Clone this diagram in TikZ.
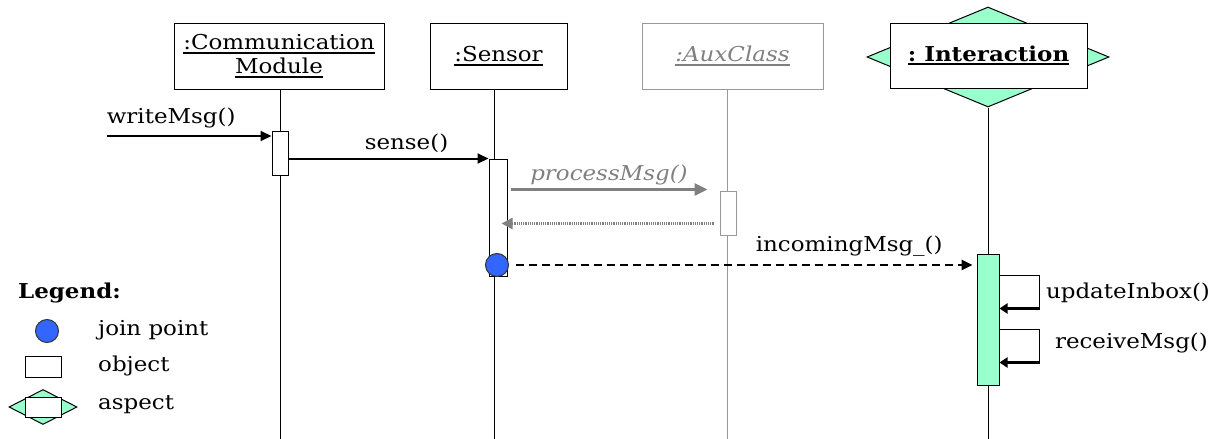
\documentclass[tikz,border=0pt]{standalone}
\usepackage{fontspec}
\setmainfont{DejaVu Serif}[FakeStretch=1.12]
\usepackage{tikz}
\usetikzlibrary{arrows.meta, positioning, shapes.geometric}

\definecolor{aspectgreen}{HTML}{99FFCC}
\definecolor{jpblue}{HTML}{3366FF}
\definecolor{auxgray}{HTML}{808080}
\definecolor{auxline}{HTML}{999999}

% text size used all over the diagram
\newcommand{\seqfont}{\fontsize{20.5}{24}\selectfont}
% underlined object names, rule a bit heavier than \underline
\newcommand{\objname}[1]{\setbox0\hbox{#1}\leavevmode\rlap{\rule[-4pt]{\wd0}{1.8pt}}\box0}

\tikzset{
  obj/.style={rectangle, draw=black, fill=white, line width=1pt, align=center,
              minimum height=66pt, inner sep=2pt},
  auxobj/.style={obj, draw=auxline, text=auxgray, font=\seqfont\itshape},
  aspectbg/.style={diamond, draw=black, fill=aspectgreen, line width=1pt, inner sep=0pt},
  act/.style={rectangle, draw=black, fill=white, line width=1pt, inner sep=0pt},
  auxact/.style={act, draw=auxline},
  aspectact/.style={act, fill=aspectgreen},
  lifeline/.style={line width=1pt},
  auxlifeline/.style={line width=1pt, draw=auxline},
  msg/.style={-{Triangle[length=11pt,width=10pt]}, line width=2pt},
  auxmsg/.style={-{Triangle[length=13pt,width=12pt]}, line width=3pt, draw=auxgray},
  auxreturn/.style={-{Triangle[length=11pt,width=11pt]}, line width=2.5pt, draw=auxgray,
                    dash pattern=on 1.2pt off 1pt},
  advmsg/.style={-{Triangle[length=11pt,width=10pt]}, line width=2.5pt,
                 dash pattern=on 8pt off 5pt},
  loopline/.style={line width=1.5pt},
  loopmsg/.style={-{Triangle[length=8pt,width=10pt]}, line width=3pt},
  joinpt/.style={circle, draw=black!80, fill=jpblue, line width=1pt, minimum size=23pt, inner sep=0pt},
  lbl/.style={anchor=west, inner sep=0pt},
}

\begin{document}
\begin{tikzpicture}[x=1pt, y=-1pt, font=\seqfont]
  \useasboundingbox (0,0) rectangle (1211,439);

  % Objects
  \node[obj, minimum width=210pt] (comm) at (279,56) {\objname{:Communication}\\\objname{Module}};
  \node[obj, minimum width=137pt] (sensor) at (498.5,56) {\objname{:Sensor}};
  \node[auxobj, minimum width=181pt] (aux) at (732.5,56) {\objname{:AuxClass}};
  \node[aspectbg, minimum width=242pt, minimum height=100pt] (interbg) at (988,57) {};
  \node[obj, minimum width=197pt, minimum height=65pt, font=\seqfont\bfseries] (inter) at (988.5,55.5) {\objname{:~Interaction}};

  % Lifelines
  \coordinate (commEnd) at (280,439);
  \coordinate (senEnd) at (494,439);
  \coordinate (auxEnd) at (727,439);
  \coordinate (interEnd) at (988,439);
  \draw[lifeline] (commEnd |- comm.south) -- (commEnd);
  \draw[lifeline] (senEnd |- sensor.south) -- (senEnd);
  \draw[auxlifeline] (auxEnd |- aux.south) -- (auxEnd);
  \draw[lifeline] (interEnd |- interbg.south) -- (interEnd);

  % Activations
  \node[act, minimum width=16pt, minimum height=44pt] (commAct) at (280,153) {};
  \node[act, minimum width=18pt, minimum height=117pt] (senAct) at (498,217.5) {};
  \node[auxact, minimum width=16pt, minimum height=44pt] (auxAct) at (728,213) {};
  \node[aspectact, minimum width=22pt, minimum height=131pt] (interAct) at (988,319.5) {};

  % Messages
  \coordinate (caller) at (107,136);
  \draw[msg] (caller) -- (caller -| commAct.west)
    node[pos=0.39, above=4pt] {writeMsg()};
  \draw[msg] ([yshift=-28pt]commAct.north east) -- ([yshift=-28pt]commAct.north east -| senAct.west)
    node[pos=0.59, above=1pt] {sense()};
  \draw[auxmsg] ([xshift=3pt,yshift=-31pt]senAct.north east) -- ([xshift=-12pt,yshift=-31pt]senAct.north east -| auxAct.west)
    node[midway, above=0pt, text=auxgray, font=\seqfont\itshape] {processMsg()};
  \draw[auxreturn] ([xshift=-6pt,yshift=-33pt]auxAct.north west) -- ([xshift=-6pt,yshift=-33pt]auxAct.north west -| senAct.east);

  % Join point and advice call
  \node[joinpt] (jp) at (497,265) {};
  \draw[advmsg] ([xshift=7pt]jp.east) -- ([xshift=-4pt]jp.east -| interAct.west)
    node[pos=0.73, above=4pt] {incomingMsg\_()};

  % Self calls on the aspect
  \draw[loopline] ([yshift=-22pt]interAct.north east) -- ++(40,0) -- ++(0,33) coordinate (upd);
  \draw[loopmsg] (upd) -- (upd -| interAct.east);
  \node[right=3pt] at ([yshift=16pt]upd) {updateInbox()};
  \draw[loopline] ([yshift=-76pt]interAct.north east) -- ++(40,0) -- ++(0,33) coordinate (rcv);
  \draw[loopmsg] (rcv) -- (rcv -| interAct.east);
  \node[right=12pt] at ([yshift=20pt]rcv) {receiveMsg()};

  % Legend
  \node[lbl, font=\seqfont\bfseries] (legend) at (18,293) {Legend:};
  \node[joinpt] (jpIcon) at (47,331) {};
  \node[lbl] (jpText) at (98,330) {join point};
  \node[act, minimum width=36pt, minimum height=21pt] (objIcon) at (43,366.5) {};
  \node[lbl] (objText) at (98,366) {object};
  \node[aspectbg, minimum width=68pt, minimum height=35pt] (aspIconBg) at (43,407) {};
  \node[act, minimum width=36pt, minimum height=20pt] (aspIcon) at (43,407) {};
  \node[lbl] (aspText) at (98,405) {aspect};
\end{tikzpicture}
\end{document}
